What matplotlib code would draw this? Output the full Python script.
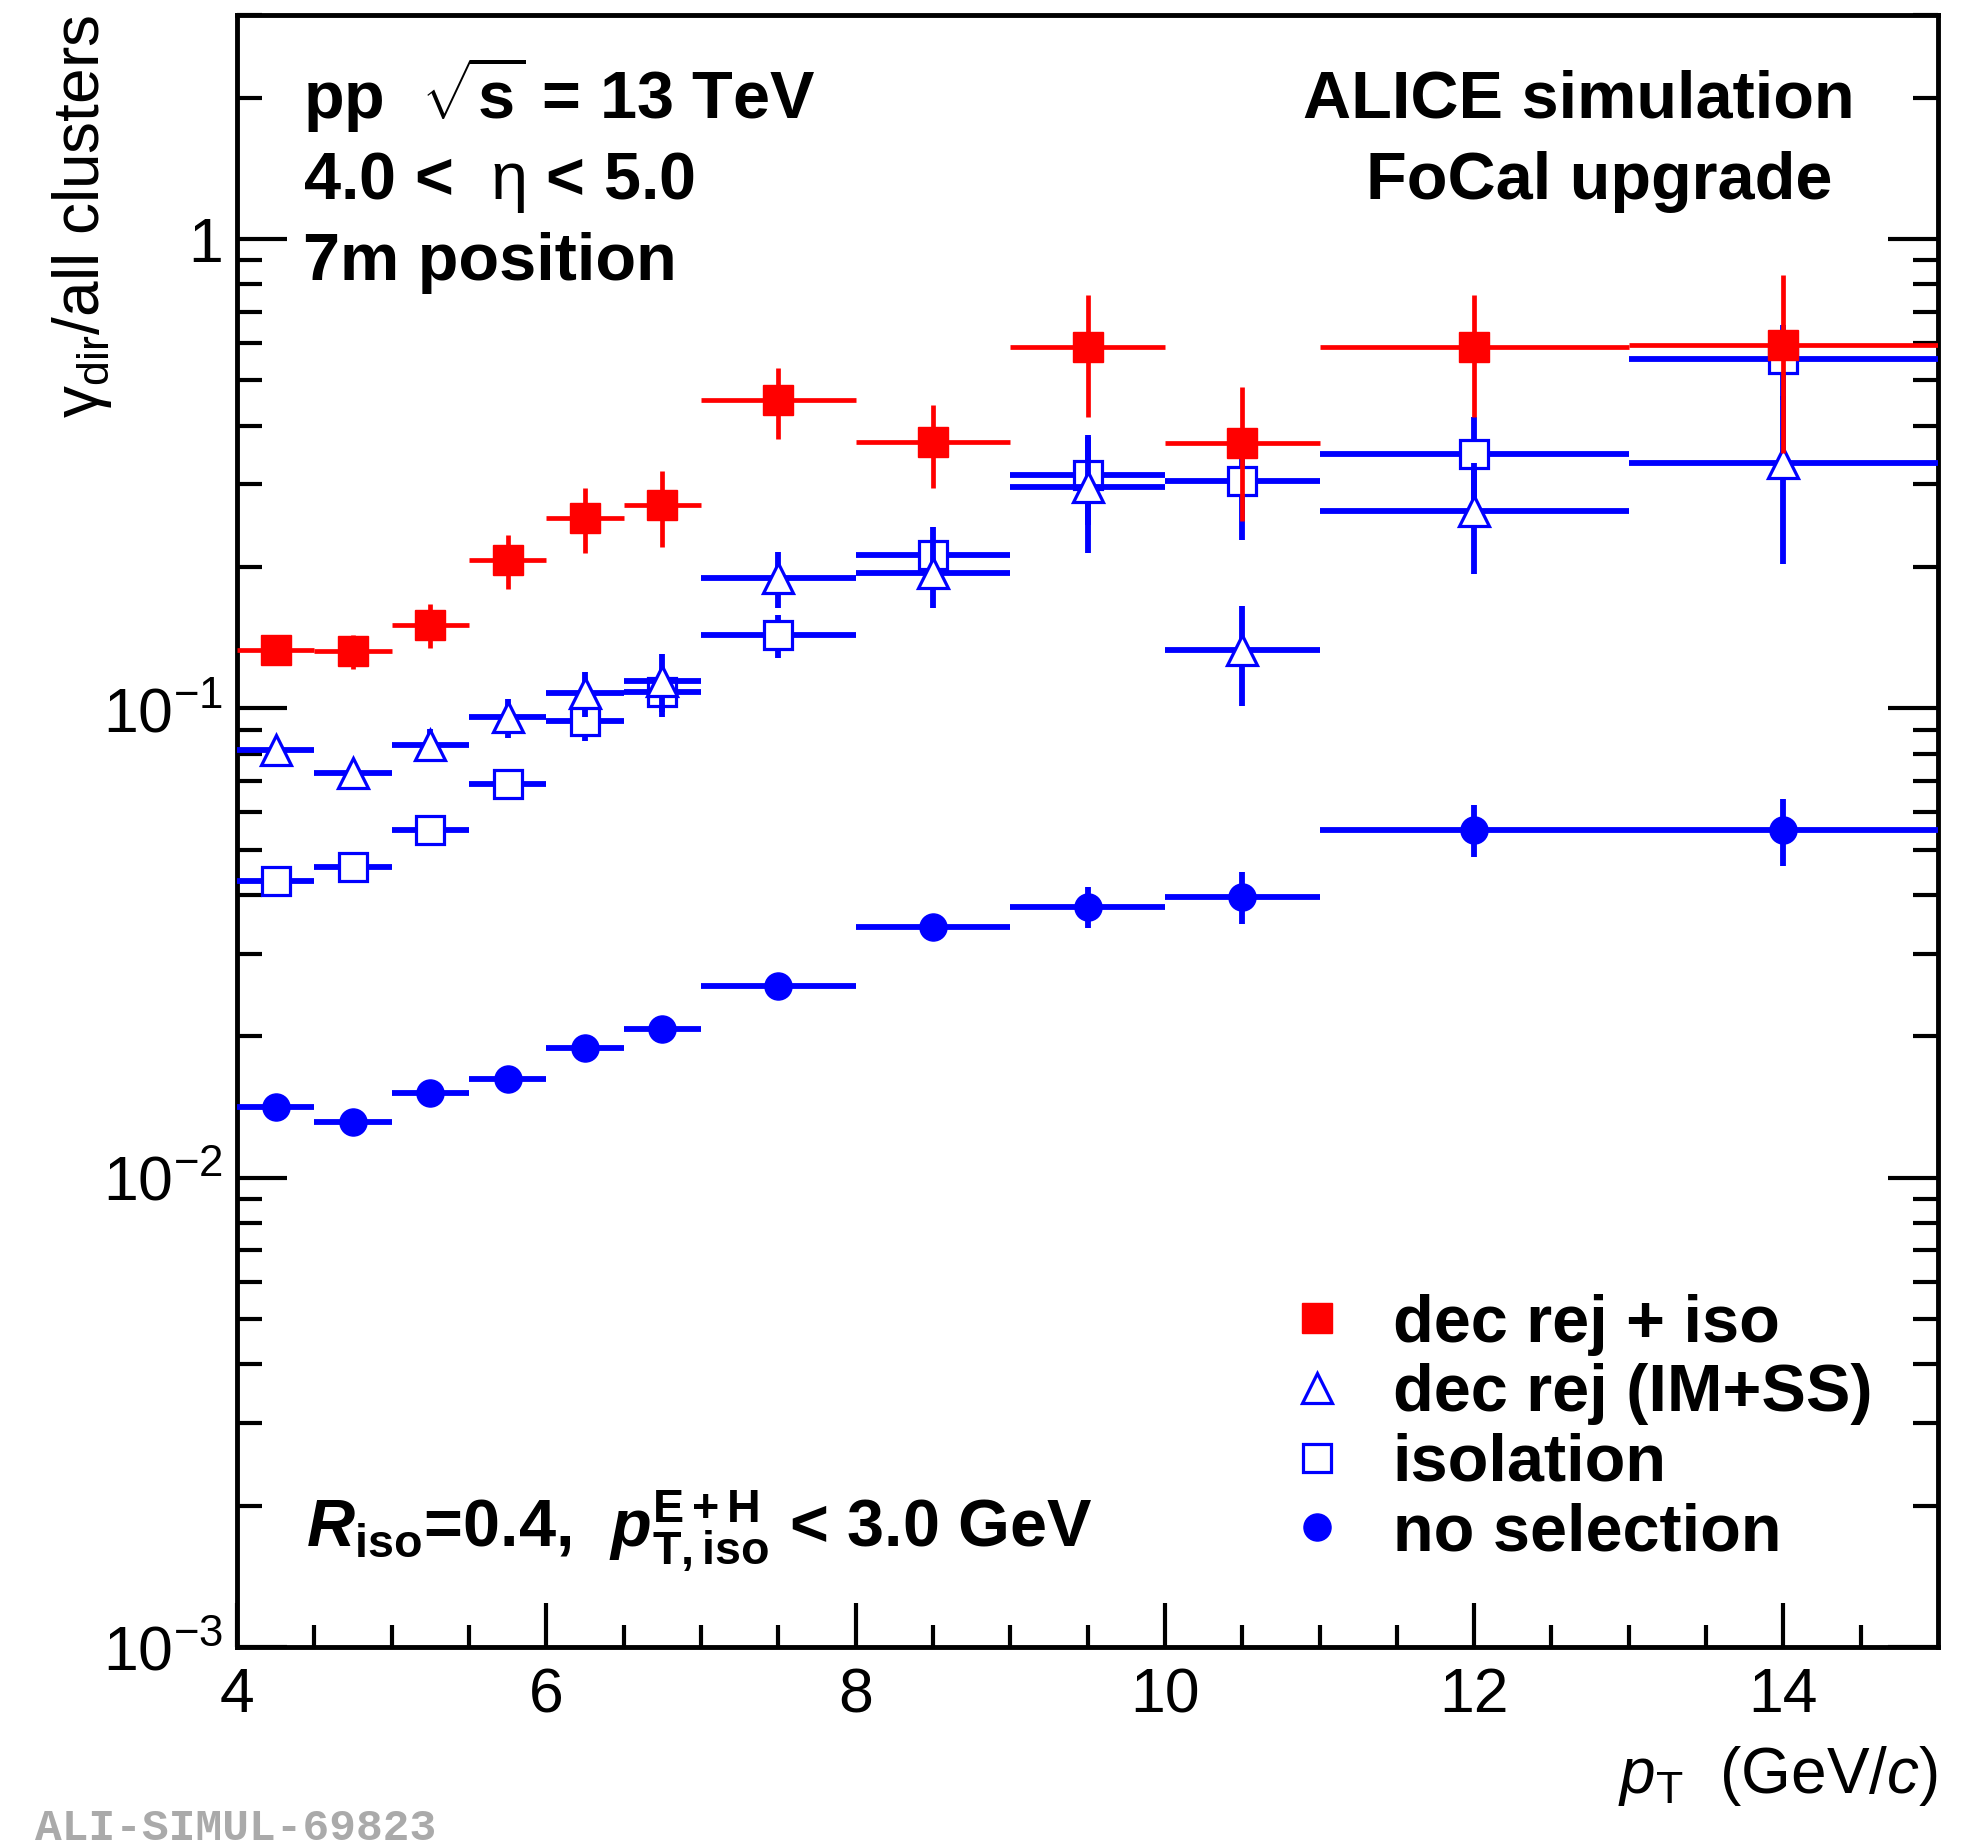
import math

import matplotlib
matplotlib.use("Agg")
import matplotlib.pyplot as plt
from matplotlib.lines import Line2D
from matplotlib.ticker import FixedLocator, LogLocator, NullFormatter, FuncFormatter

# ---------- data ----------

pt_centers = [4.25, 4.75, 5.25, 5.75, 6.25, 6.75, 7.5, 8.5, 9.5, 10.5, 12.0, 14.0]
pt_halfwidth = [0.25, 0.25, 0.25, 0.25, 0.25, 0.25, 0.5, 0.5, 0.5, 0.5, 1.0, 1.0]

# dec rej + iso (red full squares)
decrej_iso = [0.1328, 0.1322, 0.1507, 0.2066, 0.2542, 0.2705, 0.453, 0.3685, 0.588, 0.367, 0.588, 0.593]
decrej_iso_err = [0.009, 0.011, 0.016, 0.027, 0.040, 0.050, 0.079, 0.0745, 0.171, 0.117, 0.171, 0.243]

# dec rej (IM+SS) (blue open triangles)
decrej = [0.0814, 0.0728, 0.0837, 0.0956, 0.1076, 0.1143, 0.1896, 0.1944, 0.2965, 0.1333, 0.263, 0.333]
decrej_err = [0.004, 0.004, 0.0065, 0.009, 0.012, 0.016, 0.026, 0.031, 0.082, 0.032, 0.07, 0.13]

# isolation (blue open squares)
isolation = [0.0428, 0.0459, 0.0551, 0.0689, 0.0938, 0.1085, 0.1432, 0.212, 0.314, 0.305, 0.3475, 0.554]
isolation_err = [0.002, 0.002, 0.003, 0.004, 0.0088, 0.0125, 0.015, 0.031, 0.068, 0.077, 0.07, 0.10]

# no selection (blue full circles)
no_selection = [0.01417, 0.01315, 0.01517, 0.0162, 0.01892, 0.0207, 0.0256, 0.0342, 0.0378, 0.0397, 0.0551, 0.0551]
no_selection_err = [0.0004, 0.0004, 0.0005, 0.0005, 0.0006, 0.0007, 0.0008, 0.0016, 0.0038, 0.005, 0.007, 0.009]

legend_labels = ["dec rej + iso", "dec rej (IM+SS)", "isolation", "no selection"]

RED = "#ff0000"
BLUE = "#0000ff"

# ---------- fonts: Helvetica-like, as in ROOT ----------
plt.rcParams["font.family"] = ["Liberation Sans", "DejaVu Sans"]
plt.rcParams["mathtext.fontset"] = "custom"
plt.rcParams["mathtext.rm"] = "Liberation Sans"
plt.rcParams["mathtext.sf"] = "Liberation Sans"
plt.rcParams["mathtext.it"] = "Liberation Sans:italic"
plt.rcParams["mathtext.bf"] = "Liberation Sans:bold"
plt.rcParams["mathtext.bfit"] = "Liberation Sans:italic:bold"

fig = plt.figure(figsize=(19.77, 18.48), dpi=100)
ax = fig.add_axes([0.1199, 0.1088, 0.8604, 0.8831])

# ---------- series ----------
common = dict(ls="none", capsize=0)

ax.errorbar(pt_centers, isolation, xerr=pt_halfwidth, yerr=isolation_err,
            fmt="s", color=BLUE, ms=20, mfc="white", mec=BLUE, mew=2.3,
            elinewidth=4.2, zorder=3, **common)
ax.errorbar(pt_centers, decrej, xerr=pt_halfwidth, yerr=decrej_err,
            fmt="^", color=BLUE, ms=21, mfc="white", mec=BLUE, mew=2.3,
            elinewidth=4.2, zorder=4, **common)
ax.errorbar(pt_centers, no_selection, xerr=pt_halfwidth, yerr=no_selection_err,
            fmt="o", color=BLUE, ms=19.5, mfc=BLUE, mec=BLUE,
            elinewidth=4.2, zorder=5, **common)
ax.errorbar(pt_centers, decrej_iso, xerr=pt_halfwidth, yerr=decrej_iso_err,
            fmt="s", color=RED, ms=21, mfc=RED, mec=RED,
            elinewidth=3.4, zorder=6, **common)

# ---------- axes ----------
ax.set_xlim(4, 15)
ax.set_yscale("log")
ax.set_ylim(1e-3, 3.0)

ax.xaxis.set_major_locator(FixedLocator([4, 6, 8, 10, 12, 14]))
ax.xaxis.set_minor_locator(FixedLocator([4.5, 5, 5.5, 6.5, 7, 7.5, 8.5, 9, 9.5,
                                         10.5, 11, 11.5, 12.5, 13, 13.5, 14.5]))
ax.yaxis.set_major_locator(LogLocator(base=10, numticks=10))
ax.yaxis.set_minor_locator(LogLocator(base=10, subs=range(2, 10), numticks=40))
ax.yaxis.set_minor_formatter(NullFormatter())


def decade_label(v, pos):
    if abs(v - 1.0) < 1e-9:
        return "1"
    exp = int(round(math.log10(v)))
    return r"$\mathsf{10^{%d}}$" % exp


ax.yaxis.set_major_formatter(FuncFormatter(decade_label))

for s in ax.spines.values():
    s.set_linewidth(3.5)

ax.tick_params(which="both", direction="in", top=False, right=True,
               width=3.0, labelsize=45)
ax.tick_params(axis="x", which="major", length=32, pad=14)
ax.tick_params(axis="x", which="minor", length=16)
ax.tick_params(axis="y", which="major", length=36, pad=10)
ax.tick_params(axis="y", which="minor", length=18)

# axis titles (ROOT style: aligned to the end of the axis)
ax.text(1.0, -0.0896, r"$p_{\mathrm{T}}$  (GeV/$c$)", transform=ax.transAxes,
        ha="right", va="baseline", fontsize=46)
ax.text(-0.0912, 1.0, r"$\mathrm{\gamma}_{\mathrm{dir}}$/all clusters",
        transform=ax.transAxes, rotation=90, ha="center", va="top", fontsize=46)

# ---------- labels ----------
txt = dict(transform=ax.transAxes, fontsize=48, fontweight="bold")
ax.text(0.0385, 0.937, r"pp  $\sqrt{\mathbf{s}}$ = 13 TeV", ha="left", va="baseline", **txt)
ax.text(0.0385, 0.887, r"4.0 <  $\mathrm{\eta}$ < 5.0", ha="left", va="baseline", **txt)
ax.text(0.0385, 0.8377, "7m position", ha="left", va="baseline", **txt)
ax.text(0.789, 0.937, "ALICE simulation", ha="center", va="baseline", **txt)
ax.text(0.801, 0.887, "FoCal upgrade", ha="center", va="baseline", **txt)
ax.text(0.0408, 0.0618,
        r"$\mathbfit{R}_{\mathbf{iso}}$=0.4,  $\mathbfit{p}_{\mathbf{T,iso}}^{\mathbf{E+H}}$ < 3.0 GeV",
        ha="left", va="baseline", **txt)

# legend: markers only, like ROOT's "p" option
handles = [
    Line2D([], [], ls="none", marker="s", ms=21, mfc=RED, mec=RED),
    Line2D([], [], ls="none", marker="^", ms=21, mfc="white", mec=BLUE, mew=2.3),
    Line2D([], [], ls="none", marker="s", ms=20, mfc="white", mec=BLUE, mew=2.3),
    Line2D([], [], ls="none", marker="o", ms=19.5, mfc=BLUE, mec=BLUE),
]
ax.legend(handles, legend_labels, loc="center left", bbox_to_anchor=(0.6195, 0.1335),
          frameon=False, prop={"size": 48, "weight": "bold"}, handlelength=0.8,
          handletextpad=0.73, labelspacing=0.115, borderpad=0, borderaxespad=0)

fig.text(0.0177, 0.0108, "ALI-SIMUL-69823", family="Liberation Mono", fontweight="bold",
         fontsize=32, color="#aaaaaa", ha="left", va="center")

fig.savefig("out.png", dpi=100)
